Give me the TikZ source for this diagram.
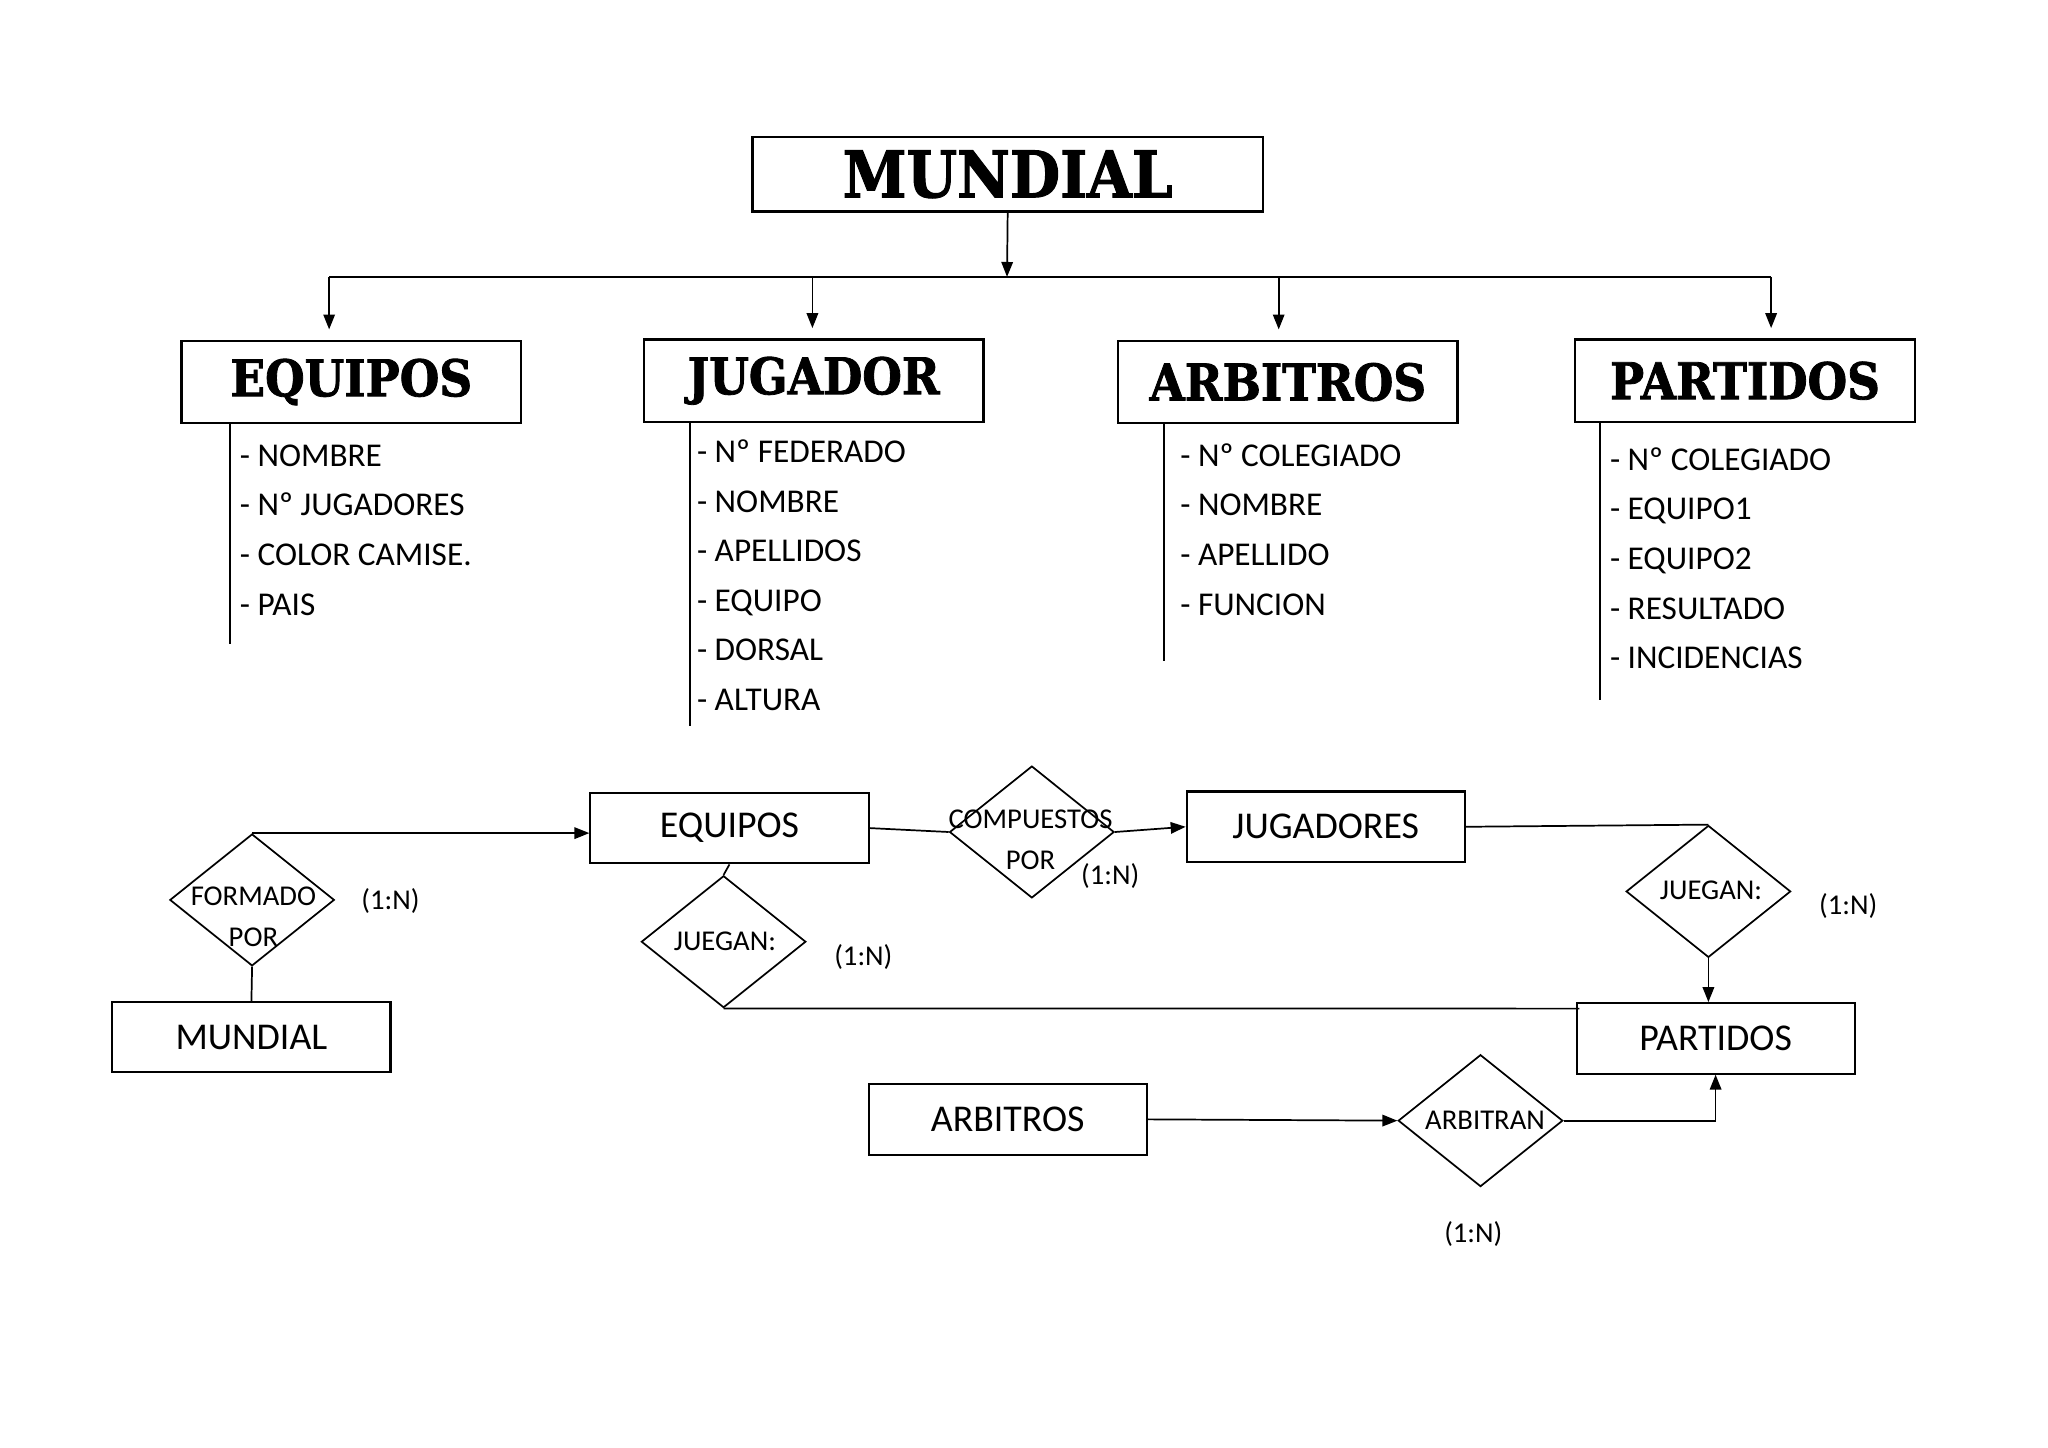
\documentclass[tikz,border=0pt]{standalone}
\usepackage{fontspec}
\setmainfont{Carlito}
\newfontfamily\headfont[FakeStretch=0.9, FakeBold=1.6]{DejaVu Serif}
\usetikzlibrary{shapes.geometric,arrows.meta,calc}

\begin{document}
\begin{tikzpicture}[x=0.02cm, y=-0.02cm, line width=0.75pt,
    >={Triangle[length=6.5pt, width=5pt]},
    titlebox/.style={draw, rectangle, line width=1pt, minimum width=5.2cm, minimum height=1.26cm, font=\headfont\bfseries\fontsize{22}{26}\selectfont},
    attr/.style={anchor=base west, inner sep=0pt, font=\fontsize{14.5}{17}\selectfont},
    entity/.style={draw, rectangle, line width=0.9pt, minimum width=4.26cm, minimum height=1.08cm, font=\fontsize{16.5}{20}\selectfont},
    relation/.style={draw, diamond, minimum width=2.52cm, minimum height=2.02cm, inner sep=0pt},
    reltext/.style={align=center, inner sep=0pt, font=\fontsize{12.5}{18}\selectfont},
    card/.style={font=\fontsize{12.5}{15}\selectfont}]

    \useasboundingbox (0,0) rectangle (1568,1108);

    % cabecera y entidades
    \node[titlebox, minimum width=7.82cm, minimum height=1.14cm, font=\headfont\bfseries\fontsize{28}{32}\selectfont] (mundialTop) at (771.5,133.5) {MUNDIAL};
    \node[titlebox] (equiposTop) at (269,292.5) {EQUIPOS};
    \node[titlebox] (jugadorTop) at (623,291.5) {JUGADOR};
    \node[titlebox] (arbitrosTop) at (986,292.5) {ARBITROS};
    \node[titlebox] (partidosTop) at (1336,291.5) {PARTIDOS};

    \coordinate (bus) at (771,212);
    \coordinate (busL) at (252,212);
    \coordinate (busR) at (1356,212);
    \coordinate (dropB) at (622,212);
    \coordinate (dropC) at (979,212);

    \draw[->] (mundialTop.south) -- (bus);
    \draw (busL) -- (busR);
    \draw[->, shorten >=4.5pt] (busL) -- (busL |- equiposTop.north);
    \draw[->, shorten >=4.5pt] (dropB) -- (dropB |- jugadorTop.north);
    \draw[->, shorten >=4.5pt] (dropC) -- (dropC |- arbitrosTop.north);
    \draw[->, shorten >=4.5pt] (busR) -- (busR |- partidosTop.north);

    % atributos
    \draw ($(equiposTop.south west)+(38,0)$) -- ++(0,168);
    \draw ($(jugadorTop.south west)+(36,0)$) -- ++(0,232);
    \draw ($(arbitrosTop.south west)+(36,0)$) -- ++(0,181);
    \draw ($(partidosTop.south west)+(20,0)$) -- ++(0,212);

    \foreach \attr [count=\i] in {NOMBRE,Nº JUGADORES,COLOR CAMISE.,PAIS}
        \node[attr] (eqAttr\i) at (183,{319+38*\i}) {- \attr};
    \foreach \attr [count=\i] in {Nº FEDERADO,NOMBRE,APELLIDOS,EQUIPO,DORSAL,ALTURA}
        \node[attr] (jugAttr\i) at (533,{316+38*\i}) {- \attr};
    \foreach \attr [count=\i] in {Nº COLEGIADO,NOMBRE,APELLIDO,FUNCION}
        \node[attr] (arbAttr\i) at (903,{319+38*\i}) {- \attr};
    \foreach \attr [count=\i] in {Nº COLEGIADO,EQUIPO1,EQUIPO2,RESULTADO,INCIDENCIAS}
        \node[attr] (parAttr\i) at (1232,{322+38*\i}) {- \attr};

    % diagrama E-R
    \node[entity] (equiposER) at (558.5,634) {EQUIPOS};
    \node[entity] (jugadoresER) at (1015,633) {JUGADORES};
    \node[entity] (mundialER) at (192.5,794) {MUNDIAL};
    \node[entity] (partidosER) at (1313.5,795) {PARTIDOS};
    \node[entity] (arbitrosER) at (771.5,857) {ARBITROS};

    \node[relation] (formadoPor) at (193,689) {};
    \node[relation] (compuestosPor) at (790,637) {};
    \node[relation] (jueganEq) at (554,721) {};
    \node[relation] (jueganJug) at (1308,682.5) {};
    \node[relation] (arbitran) at (1133.5,858) {};

    \node[reltext] (formadoPorTxt) at (194,702) {FORMADO\\POR};
    \node[reltext] (compuestosPorTxt) at (789,643) {COMPUESTOS\\POR};
    \node[reltext] (jueganEqTxt) at (555,721) {JUEGAN:};
    \node[reltext] (jueganJugTxt) at (1310,682) {JUEGAN:};
    \node[reltext] (arbitranTxt) at (1137,858) {ARBITRAN};

    \node[card] (cardFormado) at (299,690) {(1:N)};
    \node[card] (cardCompuestos) at (850,671) {(1:N)};
    \node[card] (cardJueganEq) at (661,733) {(1:N)};
    \node[card] (cardJueganJug) at (1415,694) {(1:N)};
    \node[card] (cardArbitran) at (1128,945) {(1:N)};

    \draw (mundialER.north) -- (formadoPor.south);
    \draw[->] (formadoPor.north) -- (formadoPor.north -| equiposER.west);
    \draw (equiposER.east) -- (compuestosPor.west);
    \draw[->] (compuestosPor.east) -- (jugadoresER.west);
    \draw (equiposER.south) -- (jueganEq.north);
    \draw (jueganEq.south) -- ($(partidosER.north west)+(3,5)$);
    \draw (jugadoresER.east) -- (jueganJug.north);
    \draw[->] (jueganJug.south) -- (jueganJug.south |- partidosER.north);
    \draw[->] (arbitrosER.east) -- (arbitran.west);
    \draw[->] (arbitran.east) -| (partidosER.south);
\end{tikzpicture}
\end{document}
